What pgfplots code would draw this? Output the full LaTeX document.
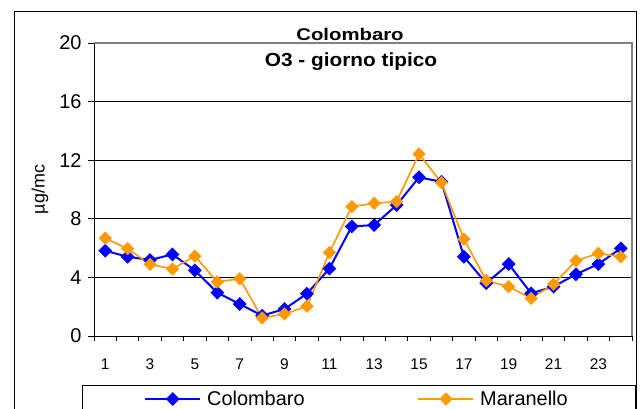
\documentclass[border=0pt]{standalone}
\usepackage{pgfplots}
\pgfplotsset{compat=1.18}
\usepackage{fontspec}
\setmainfont{Liberation Sans}
\definecolor{cblue}{RGB}{0,0,255}
\definecolor{corange}{RGB}{255,153,0}
\begin{document}
\begin{tikzpicture}
\useasboundingbox (0bp,0bp) rectangle (641bp,409bp);
\clip (0bp,0bp) rectangle (641bp,409bp);
\fill[white] (0bp,0bp) rectangle (641bp,409bp);
\draw[black, line width=1bp] (14bp,-20bp) -- (14bp,397bp) -- (636bp,397bp) -- (636bp,-20bp);
\draw[black, line width=0.8bp] (82bp,-20bp) -- (82bp,24bp) -- (635bp,24bp) -- (635bp,-20bp);
\coordinate (A) at (94bp,73bp);
\begin{axis}[
  at={(A)}, anchor=south west,
  width=538bp, height=293bp, scale only axis,
  xmin=0.5, xmax=24.5, ymin=0, ymax=20,
  axis x line*=bottom, axis y line*=left,
  axis line style={line width=1bp, -},
  xtick={1,3,...,23},
  minor xtick={0.5,1.5,...,24.5},
  ytick={0,4,...,20},
  major x tick style={draw=none},
  tick align=outside,
  major tick length=6bp, minor tick length=5bp,
  tick style={black, line width=0.8bp},
  ymajorgrids, grid style={black, line width=0.8bp},
  /pgf/number format/assume math mode=true,
  xticklabel style={font=\fontsize{15.5}{16}\selectfont, yshift=-13bp},
  yticklabel style={font=\fontsize{20}{20}\selectfont, xshift=-3bp},
  ylabel={µg/mc},
  every axis y label/.style={at={(axis description cs:-0.1004,0.5)}, rotate=90, anchor=center, font=\fontsize{18}{18}\selectfont},
  legend columns=2,
  legend style={draw=none, fill=none, inner sep=0pt, at={(axis description cs:0.0929,-0.2150)}, anchor=west,
    font=\fontsize{20}{22}\selectfont,
    /tikz/every odd column/.append style={column sep=4bp},
    /tikz/every even column/.append style={column sep=111bp}},
  legend image code/.code={\draw[mark repeat=2,mark phase=2,#1] plot coordinates {(0bp,0bp) (27.5bp,0bp) (55bp,0bp)};},
  clip=false,
]
\addplot[cblue, line width=2bp, mark=diamond*, mark size=5.5bp, mark options={xscale=1.33, solid}] coordinates {
(1,5.82) (2,5.41) (3,5.19) (4,5.57) (5,4.48) (6,2.96) (7,2.18) (8,1.39) (9,1.84) (10,2.89) (11,4.60) (12,7.48)
(13,7.57) (14,8.94) (15,10.83) (16,10.53) (17,5.41) (18,3.60) (19,4.91) (20,2.91) (21,3.37) (22,4.21) (23,4.91) (24,5.98)};
\addlegendentry{Colombaro}
\addplot[corange, line width=1.6bp, mark=diamond*, mark size=5.5bp, mark options={xscale=1.33, solid}] coordinates {
(1,6.67) (2,5.96) (3,4.89) (4,4.57) (5,5.46) (6,3.69) (7,3.91) (8,1.23) (9,1.50) (10,2.03) (11,5.69) (12,8.83)
(13,9.06) (14,9.17) (15,12.42) (16,10.47) (17,6.62) (18,3.78) (19,3.37) (20,2.57) (21,3.53) (22,5.14) (23,5.64) (24,5.41)};
\addlegendentry{Maranello}
\draw[gray, line width=2bp] (rel axis cs:0,1) -- (rel axis cs:1,1) -- (rel axis cs:1,0);
\end{axis}
\node[font=\bfseries\fontsize{17}{17}\selectfont, xscale=1.2] at (350bp,375bp) {Colombaro};
\node[font=\bfseries\fontsize{19}{19}\selectfont, xscale=1.1] at (351bp,347bp) {O3 - giorno tipico};
\end{tikzpicture}
\end{document}
